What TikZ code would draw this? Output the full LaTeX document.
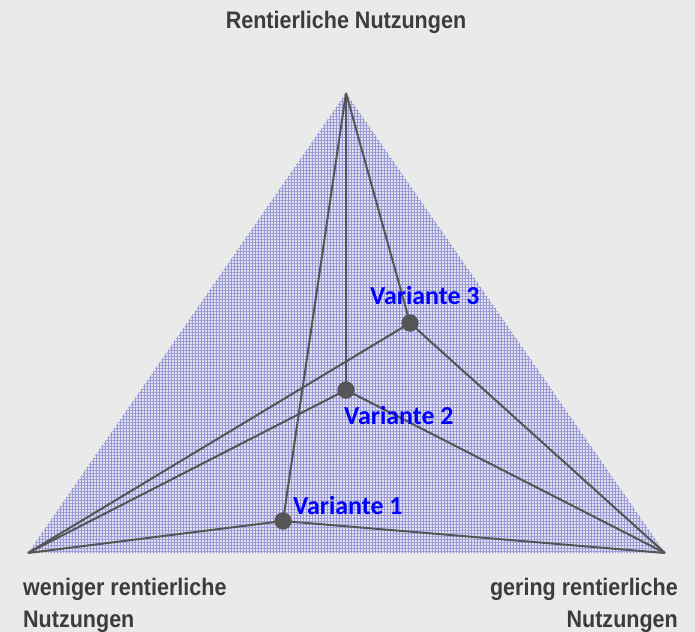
\documentclass[tikz,border=0pt]{standalone}
\usepackage{fontspec}
\newfontfamily\labfont[FakeStretch=0.9]{Liberation Sans}
\newfontfamily\varfont{Carlito}
\usetikzlibrary{patterns.meta}
\definecolor{bgc}{RGB}{234,234,234}
\definecolor{fillc}{RGB}{226,226,238}
\definecolor{gridc}{RGB}{150,150,215}
\definecolor{linec}{RGB}{85,85,85}
\definecolor{labc}{RGB}{60,60,60}
\tikzset{
  conn/.style={draw=linec, line width=2bp},
  dot/.style={circle, fill=linec, inner sep=0pt, minimum size=17bp},
  corner/.style={inner sep=0pt, minimum size=0pt},
  varlabel/.style={text=blue, font=\varfont\bfseries\fontsize{26}{28}\selectfont, inner sep=0pt, anchor=base west},
  axlabel/.style={text=labc, font=\labfont\bfseries\fontsize{24}{32}\selectfont, inner sep=0pt},
}
\begin{document}
\begin{tikzpicture}[x=1bp,y=-1bp]
\fill[bgc] (0,0) rectangle (695,632);
\useasboundingbox (0,0) rectangle (695,632);
\coordinate (T) at (346,93);
\coordinate (L) at (28,553);
\coordinate (R) at (665,553);
\fill[fillc] (T) -- (L) -- (R) -- cycle;
\fill[pattern={Lines[angle=0,distance=3bp,line width=0.5bp]}, pattern color=gridc] (T) -- (L) -- (R) -- cycle;
\fill[pattern={Lines[angle=90,distance=3bp,line width=0.5bp]}, pattern color=gridc] (T) -- (L) -- (R) -- cycle;
\node[corner] (t) at (T) {};
\node[corner] (l) at (L) {};
\node[corner] (r) at (R) {};
\node[dot] (v3) at (410,323) {};
\node[dot] (v2) at (346,390) {};
\node[dot] (v1) at (283,521) {};
\foreach \v in {v1,v2,v3}{
  \draw[conn] (t.center) -- (\v.center);
  \draw[conn] (l.center) -- (\v.center);
  \draw[conn] (r.center) -- (\v.center);
}
\foreach \v in {v1,v2,v3}{\node[dot] at (\v) {};}
\node[varlabel] (lv3) at (370,304) {Variante 3};
\node[varlabel] (lv2) at (344,424) {Variante 2};
\node[varlabel] (lv1) at (293,514) {Variante 1};
\node[axlabel, anchor=base] (top) at (346,29) {Rentierliche Nutzungen};
\node[axlabel, anchor=base west, align=left] (bl) at (23,627) {weniger rentierliche\\Nutzungen};
\node[axlabel, anchor=base east, align=right] (br) at (678,627) {gering rentierliche\\Nutzungen};
\end{tikzpicture}
\end{document}
